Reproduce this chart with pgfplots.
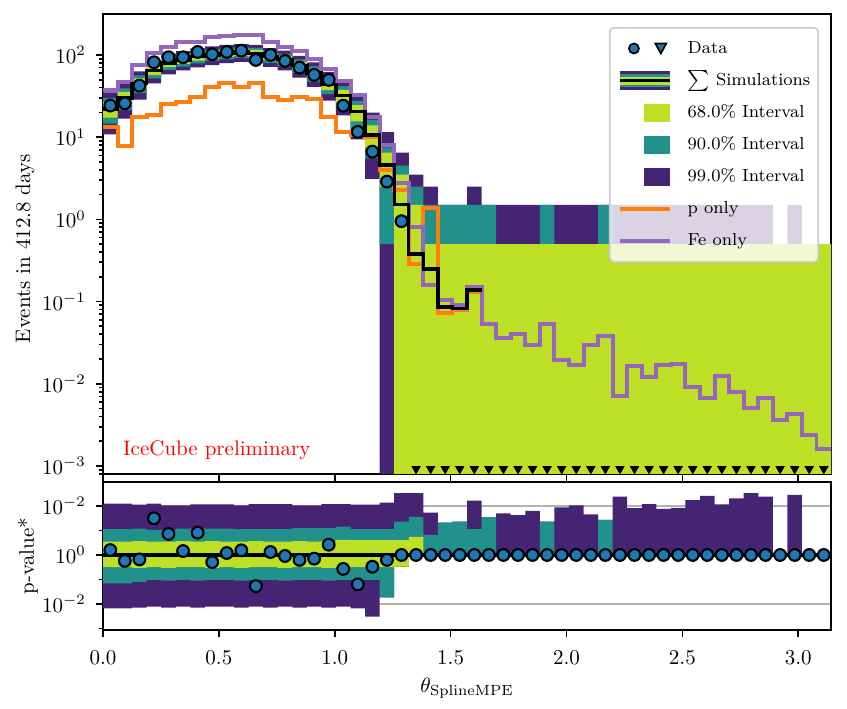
\documentclass[border=0pt]{standalone}
\usepackage{pgfplots}
\usepackage{pgfplotstable}
\pgfplotsset{compat=1.18}
\usepgfplotslibrary{fillbetween}

\definecolor{vpurple}{RGB}{70,36,116}
\definecolor{vteal}{RGB}{33,145,140}
\definecolor{vlime}{RGB}{189,223,38}
\definecolor{mplblue}{RGB}{31,119,180}
\definecolor{mplorange}{RGB}{255,127,14}
\definecolor{mplpurple}{RGB}{148,103,189}

% Poisson intervals of the summed simulation, per bin (left edges)
\pgfplotstableread{
x       lo99  lo90  lo68  hi68  hi90  hi99
0.00000 10.8  14.6  17.3  26.7  30.0  35.0
0.06283 16.8  21.3  24.5  35.5  39.3  45.0
0.12566 28.6  34.2  38.3  51.7  56.3  63.2
0.18850 45.2  52.0  56.9  73.1  78.5  86.7
0.25133 57.9  65.6  71.1  88.9  95.0  103.9
0.31416 64.9  72.0  77.7  96.3  102.6 111.0
0.37699 70.8  79.2  85.3  104.7 111.3 120.1
0.43982 75.2  83.8  90.0  110.0 116.7 126.7
0.50265 79.5  88.4  94.8  115.2 122.1 132.3
0.56549 82.2  91.2  97.6  118.4 125.4 135.7
0.62832 79.5  88.4  94.8  115.2 122.1 132.3
0.69115 71.7  80.2  86.2  105.8 112.4 121.2
0.75398 64.8  72.9  78.6  97.4  103.7 113.1
0.81681 52.8  60.1  65.4  82.6  88.4  97.1
0.87965 41.0  47.5  52.3  67.7  73.0  80.9
0.94248 27.9  33.4  37.4  50.6  55.2  62.0
1.00531 18.4  23.0  26.3  37.7  41.6  47.5
1.06814 9.4   12.9  15.5  24.5  27.6  32.5
1.13097 3.1   5.5   7.3   13.9  16.2  19.9
1.19381 1e-5  0.5   2.5   6.5   7.5   11.5
1.25664 1e-5  1e-5  1e-5  3.5   4.5   6.5
1.31947 1e-5  1e-5  1e-5  1.5   2.5   3.5
1.38230 1e-5  1e-5  1e-5  0.5   1.5   2.5
1.44513 1e-5  1e-5  1e-5  0.5   1.5   1.5
1.50796 1e-5  1e-5  1e-5  0.5   1.5   1.5
1.57080 1e-5  1e-5  1e-5  0.5   1.5   2.5
1.63363 1e-5  1e-5  1e-5  0.5   1.5   1.5
1.69646 1e-5  1e-5  1e-5  0.5   0.5   1.5
1.75929 1e-5  1e-5  1e-5  0.5   0.5   1.5
1.82212 1e-5  1e-5  1e-5  0.5   0.5   1.5
1.88496 1e-5  1e-5  1e-5  0.5   1.5   1.5
1.94779 1e-5  1e-5  1e-5  0.5   0.5   1.5
2.01062 1e-5  1e-5  1e-5  0.5   0.5   1.5
2.07345 1e-5  1e-5  1e-5  0.5   0.5   1.5
2.13628 1e-5  1e-5  1e-5  0.5   1.5   1.5
2.19911 1e-5  1e-5  1e-5  0.5   0.5   1.5
2.26195 1e-5  1e-5  1e-5  0.5   0.5   1.5
2.32478 1e-5  1e-5  1e-5  0.5   0.5   1.5
2.38761 1e-5  1e-5  1e-5  0.5   0.5   1.5
2.45044 1e-5  1e-5  1e-5  0.5   0.5   1.5
2.51327 1e-5  1e-5  1e-5  0.5   0.5   1.5
2.57611 1e-5  1e-5  1e-5  0.5   0.5   1.5
2.63894 1e-5  1e-5  1e-5  0.5   0.5   1.5
2.70177 1e-5  1e-5  1e-5  0.5   0.5   1.5
2.76460 1e-5  1e-5  1e-5  0.5   0.5   1.5
2.82743 1e-5  1e-5  1e-5  0.5   0.5   1.5
2.89027 1e-5  1e-5  1e-5  0.5   0.5   0.5
2.95310 1e-5  1e-5  1e-5  0.5   0.5   1.5
3.01593 1e-5  1e-5  1e-5  0.5   0.5   0.5
3.07876 1e-5  1e-5  1e-5  0.5   0.5   0.5
3.14159 1e-5  1e-5  1e-5  0.5   0.5   0.5
}\bandtab

% sum of simulations (median), p only
\pgfplotstableread{
x       med   ponly
0.00000 22    13.4
0.06283 30    7.8
0.12566 45    17.5
0.18850 65    18.5
0.25133 80    25.1
0.31416 87    27.0
0.37699 95    30.6
0.43982 100   40.5
0.50265 105   45.3
0.56549 108   40.5
0.62832 105   45.3
0.69115 96    30.6
0.75398 88    28.4
0.81681 74    30.6
0.87965 60    28.9
0.94248 44    17.5
1.00531 32    11.7
1.06814 20.4  10.6
1.13097 10.6  10.0
1.19381 4.6   4.0
1.25664 1.52  2.28
1.31947 0.38  0.29
1.38230 0.25  1.36
1.44513 0.086 0.072
1.50796 0.083 0.078
1.57080 0.138 0.13
1.63363 0.138 0.13
}\simtab

\pgfplotstableread{
x       fe
0.00000 37.5
0.06283 47.3
0.12566 75.5
0.18850 105
0.25133 126
0.31416 145
0.37699 145
0.43982 167
0.50265 172
0.56549 175
0.62832 175
0.69115 145
0.75398 126
0.81681 113
0.87965 90
0.94248 67
1.00531 48.5
1.06814 32.6
1.13097 17.8
1.19381 8.0
1.25664 2.8
1.31947 0.80
1.38230 0.159
1.44513 0.105
1.50796 0.092
1.57080 0.152
1.63363 0.053
1.69646 0.0357
1.75929 0.040
1.82212 0.0296
1.88496 0.053
1.94779 0.0195
2.01062 0.0170
2.07345 0.0296
2.13628 0.0378
2.19911 0.0071
2.26195 0.0164
2.32478 0.0121
2.38761 0.0168
2.45044 0.0172
2.51327 0.0092
2.57611 0.0068
2.63894 0.0126
2.70177 0.0080
2.76460 0.0051
2.82743 0.00665
2.89027 0.00363
2.95310 0.00425
3.01593 0.0024
3.07876 0.00159
3.14159 0.00159
}\fetab

% data, bin centres
\pgfplotstableread{
x      y
0.0314 24.2
0.0942 25.8
0.1571 42.3
0.2199 81.5
0.2827 93.7
0.3456 93.7
0.4084 108.7
0.4712 101.9
0.5341 108.7
0.5969 112.8
0.6597 86.9
0.7226 100.0
0.7854 84.5
0.8482 70.1
0.9111 57.2
0.9739 49.7
1.0367 24.1
1.0996 11.6
1.1624 6.66
1.2252 2.88
1.2881 0.95
}\datatab

\pgfplotstableread{
x      y
1.3509 9.2e-4
1.4137 9.2e-4
1.4765 9.2e-4
1.5394 9.2e-4
1.6022 9.2e-4
1.6650 9.2e-4
1.7279 9.2e-4
1.7907 9.2e-4
1.8535 9.2e-4
1.9164 9.2e-4
1.9792 9.2e-4
2.0420 9.2e-4
2.1049 9.2e-4
2.1677 9.2e-4
2.2305 9.2e-4
2.2934 9.2e-4
2.3562 9.2e-4
2.4190 9.2e-4
2.4819 9.2e-4
2.5447 9.2e-4
2.6075 9.2e-4
2.6704 9.2e-4
2.7332 9.2e-4
2.7960 9.2e-4
2.8588 9.2e-4
2.9217 9.2e-4
2.9845 9.2e-4
3.0473 9.2e-4
3.1102 9.2e-4
}\limtab

% p-value* bands (signed -log10 p)
\pgfplotstableread{
x       u99   u90   u68   l68    l90    l99
0.00000 2.10  1.05  0.54  -0.50  -1.16  -2.18
0.06283 2.10  1.05  0.54  -0.50  -1.16  -2.18
0.12566 2.05  1.08  0.57  -0.53  -1.10  -2.15
0.18850 2.10  1.02  0.54  -0.50  -1.02  -2.11
0.25133 2.02  1.02  0.54  -0.53  -1.05  -2.15
0.31416 2.02  1.08  0.57  -0.50  -1.02  -2.11
0.37699 2.07  1.08  0.54  -0.50  -1.05  -2.15
0.43982 2.07  1.08  0.57  -0.53  -1.02  -2.11
0.50265 2.07  1.08  0.54  -0.50  -1.02  -2.11
0.56549 2.02  1.05  0.54  -0.53  -1.05  -2.15
0.62832 2.08  1.05  0.57  -0.50  -1.02  -2.11
0.69115 2.08  1.05  0.54  -0.50  -1.02  -2.15
0.75398 2.08  1.05  0.54  -0.53  -1.05  -2.11
0.81681 2.02  1.10  0.57  -0.50  -1.02  -2.15
0.87965 2.02  1.10  0.54  -0.50  -1.02  -2.11
0.94248 2.08  1.10  0.57  -0.53  -1.05  -2.15
1.00531 2.08  1.16  0.62  -0.50  -1.02  -2.11
1.06814 2.05  1.05  0.61  -0.50  -1.02  -2.18
1.13097 2.05  1.05  0.61  -0.50  -1.02  -2.52
1.19381 2.14  1.05  0.61  -0.50  -1.73  -1.73
1.25664 2.52  1.36  0.61  -0.48  -0.48  -0.48
1.31947 2.52  1.56  0.74  0      0      0
1.38230 1.73  0.82  0     0      0      0
1.44513 1.32  1.32  0     0      0      0
1.50796 1.36  1.36  0     0      0      0
1.57080 2.22  1.05  0     0      0      0
1.63363 1.54  1.54  0     0      0      0
1.69646 1.70  0     0     0      0      0
1.75929 1.63  0     0     0      0      0
1.82212 1.80  0     0     0      0      0
1.88496 1.36  1.36  0     0      0      0
1.94779 1.94  0     0     0      0      0
2.01062 2.02  0     0     0      0      0
2.07345 1.66  0     0     0      0      0
2.13628 1.43  1.43  0     0      0      0
2.19911 2.38  0     0     0      0      0
2.26195 1.91  0     0     0      0      0
2.32478 2.08  0     0     0      0      0
2.38761 1.88  0     0     0      0      0
2.45044 1.92  0     0     0      0      0
2.51327 2.24  0     0     0      0      0
2.57611 2.41  0     0     0      0      0
2.63894 2.07  0     0     0      0      0
2.70177 2.31  0     0     0      0      0
2.76460 2.52  0     0     0      0      0
2.82743 2.38  0     0     0      0      0
2.89027 0     0     0     0      0      0
2.95310 2.45  0     0     0      0      0
3.01593 0     0     0     0      0      0
3.07876 0     0     0     0      0      0
3.14159 0     0     0     0      0      0
}\pbandtab

\pgfplotstableread{
x      v
0.0314 0.20
0.0942 -0.24
0.1571 -0.18
0.2199 1.50
0.2827 0.86
0.3456 0.16
0.4084 0.91
0.4712 -0.29
0.5341 0.08
0.5969 0.19
0.6597 -1.27
0.7226 0.12
0.7854 -0.04
0.8482 -0.20
0.9111 -0.15
0.9739 0.42
1.0367 -0.57
1.0996 -1.20
1.1624 -0.48
1.2252 -0.20
1.2881 0
1.3509 0
1.4137 0
1.4765 0
1.5394 0
1.6022 0
1.6650 0
1.7279 0
1.7907 0
1.8535 0
1.9164 0
1.9792 0
2.0420 0
2.1049 0
2.1677 0
2.2305 0
2.2934 0
2.3562 0
2.4190 0
2.4819 0
2.5447 0
2.6075 0
2.6704 0
2.7332 0
2.7960 0
2.8588 0
2.9217 0
2.9845 0
3.0473 0
3.1102 0
}\pdatatab

\pgfplotsset{
  panel/.style={scale only axis, width=346.7pt, xmin=0, xmax=3.14159,
    tick align=outside, xtick pos=left, ytick pos=left,
    major tick length=3.5pt, minor tick length=2pt,
    every tick/.style={black, line width=0.8pt},
    axis line style={line width=0.8pt},
    xtick={0,0.5,1,1.5,2,2.5,3},
    yticklabel style={xshift=-1.2pt},
    xticklabel style={yshift=-3.2pt,
      /pgf/number format/.cd, fixed, fixed zerofill, precision=1},
    tick label style={font=\normalsize}},
  dat/.style={only marks, mark=*, mark size=2.8pt,
    mark options={fill=mplblue, draw=black, line width=1pt}},
}

\begin{document}
\begin{tikzpicture}

\begin{axis}[panel, at={(0pt,0pt)}, anchor=south west, height=219.05pt,
  ymode=log, ymin=8e-4, ymax=315, xticklabels={},
  ylabel={Events in 412.8 days},
  ylabel style={at={(axis description cs:-0.107,0.49)}, anchor=center},
  legend cell align=left,
  legend style={at={(axis description cs:0.9835,0.9717)}, anchor=north east,
    draw=black!20, line width=0.8pt, rounded corners=2pt, fill=white,
    fill opacity=0.8, draw opacity=1, text opacity=1,
    font=\fontsize{8.3}{10}\selectfont,
    inner xsep=3.8pt, inner ysep=5.5pt, row sep=6.6pt,
    nodes={inner sep=0pt, text height=6.5pt, text depth=2.2pt},
    /tikz/every odd column/.append style={column sep=7.2pt}},
]
\addplot[name path=u99, draw=none, const plot mark left, forget plot] table[x=x, y=hi99]{\bandtab};
\addplot[name path=l99, draw=none, const plot mark left, forget plot] table[x=x, y=lo99]{\bandtab};
\addplot[fill=vpurple, draw=none, forget plot] fill between[of=u99 and l99];
\addplot[name path=u90, draw=none, const plot mark left, forget plot] table[x=x, y=hi90]{\bandtab};
\addplot[name path=l90, draw=none, const plot mark left, forget plot] table[x=x, y=lo90]{\bandtab};
\addplot[fill=vteal, draw=none, forget plot] fill between[of=u90 and l90];
\addplot[name path=u68, draw=none, const plot mark left, forget plot] table[x=x, y=hi68]{\bandtab};
\addplot[name path=l68, draw=none, const plot mark left, forget plot] table[x=x, y=lo68]{\bandtab};
\addplot[fill=vlime, draw=none, forget plot] fill between[of=u68 and l68];

\addplot[mplorange, line width=1.9pt, const plot mark left, forget plot] table[x=x, y=ponly]{\simtab};
\addplot[mplpurple, line width=1.9pt, const plot mark left, forget plot] table[x=x, y=fe]{\fetab};
\addplot[black, line width=1.6pt, const plot mark left, forget plot] table[x=x, y=med]{\simtab};

\addplot[dat, forget plot] table[x=x, y=y]{\datatab};
\addplot[only marks, mark=triangle*, mark size=2.2pt,
  mark options={rotate=180, fill=black, draw=black}, forget plot] table[x=x, y=y]{\limtab};

\node[anchor=base west, text=red] at (axis description cs:0.0175,0.041) {IceCube preliminary};

% legend
\addlegendimage{legend image code/.code={
  \path[draw=none, fill=none] (0pt,-4.35pt) rectangle (24.1pt,4.35pt);
  \draw[black, line width=0.8pt, fill=mplblue, fill opacity=1, rounded corners=0pt] (6.7pt,0pt) circle (2.4pt);
  \draw[black, line width=0.8pt, fill=mplblue, fill opacity=1, rounded corners=0pt]
    (16.9pt,2.4pt) -- (22.1pt,2.4pt) -- (19.5pt,-2.4pt) -- cycle;}}
\addlegendentry{Data}
\addlegendimage{legend image code/.code={
  \path[draw=none, fill=vpurple, fill opacity=1, rounded corners=0pt] (0pt,-4.35pt) rectangle (24.1pt,4.35pt);
  \path[draw=none, fill=vteal, fill opacity=1, rounded corners=0pt] (0pt,-3.1pt) rectangle (24.1pt,3.1pt);
  \path[draw=none, fill=vlime, fill opacity=1, rounded corners=0pt] (0pt,-1.9pt) rectangle (24.1pt,1.9pt);
  \path[draw=black, line width=1.1pt] (0pt,0pt) -- (24.1pt,0pt);}}
\addlegendentry{$\sum$ Simulations}
\addlegendimage{legend image code/.code={
  \path[draw=none, fill=none] (0pt,-4.35pt) rectangle (24.1pt,4.35pt);
  \path[draw=none, fill=vlime, fill opacity=1, rounded corners=0pt] (11.7pt,-4.35pt) rectangle (24.1pt,4.35pt);}}
\addlegendentry{68.0\% Interval}
\addlegendimage{legend image code/.code={
  \path[draw=none, fill=none] (0pt,-4.35pt) rectangle (24.1pt,4.35pt);
  \path[draw=none, fill=vteal, fill opacity=1, rounded corners=0pt] (11.7pt,-4.35pt) rectangle (24.1pt,4.35pt);}}
\addlegendentry{90.0\% Interval}
\addlegendimage{legend image code/.code={
  \path[draw=none, fill=none] (0pt,-4.35pt) rectangle (24.1pt,4.35pt);
  \path[draw=none, fill=vpurple, fill opacity=1, rounded corners=0pt] (11.7pt,-4.35pt) rectangle (24.1pt,4.35pt);}}
\addlegendentry{99.0\% Interval}
\addlegendimage{legend image code/.code={
  \path[draw=none, fill=none] (0pt,-4.35pt) rectangle (24.1pt,4.35pt);
  \path[draw=mplorange, line width=2pt] (0pt,0pt) -- (24.1pt,0pt);}}
\addlegendentry{p only}
\addlegendimage{legend image code/.code={
  \path[draw=none, fill=none] (0pt,-4.35pt) rectangle (24.1pt,4.35pt);
  \path[draw=mplpurple, line width=2pt] (0pt,0pt) -- (24.1pt,0pt);}}
\addlegendentry{Fe only}
\end{axis}

\begin{axis}[panel, at={(0pt,-3.81pt)}, anchor=north west, height=70.48pt,
  ymin=-3.06, ymax=2.98,
  ytick={-2,0,2}, yticklabels={$10^{-2}$,$10^{0}$,$10^{-2}$},
  minor ytick={-3,-1,1,3},
  ymajorgrids, grid style={black!30, line width=0.9pt},
  xlabel={$\theta_{\mathrm{SplineMPE}}$},
  xlabel style={at={(axis description cs:0.5,-0.275)}, anchor=north},
  ylabel={p-value*},
  ylabel style={at={(axis description cs:-0.103,0.5)}, anchor=center},
]
\addplot[name path=pu99, draw=none, const plot mark left] table[x=x, y=u99]{\pbandtab};
\addplot[name path=pl99, draw=none, const plot mark left] table[x=x, y=l99]{\pbandtab};
\addplot[fill=vpurple, draw=none] fill between[of=pu99 and pl99];
\addplot[name path=pu90, draw=none, const plot mark left] table[x=x, y=u90]{\pbandtab};
\addplot[name path=pl90, draw=none, const plot mark left] table[x=x, y=l90]{\pbandtab};
\addplot[fill=vteal, draw=none] fill between[of=pu90 and pl90];
\addplot[name path=pu68, draw=none, const plot mark left] table[x=x, y=u68]{\pbandtab};
\addplot[name path=pl68, draw=none, const plot mark left] table[x=x, y=l68]{\pbandtab};
\addplot[fill=vlime, draw=none] fill between[of=pu68 and pl68];
\addplot[black, line width=1.5pt] coordinates {(0,0) (3.14159,0)};
\addplot[dat] table[x=x, y=v]{\pdatatab};
\end{axis}

\pgfresetboundingbox
\path[use as bounding box] (-49.05pt,-111.9pt) rectangle (354.3pt,225.7pt);
\end{tikzpicture}
\end{document}
